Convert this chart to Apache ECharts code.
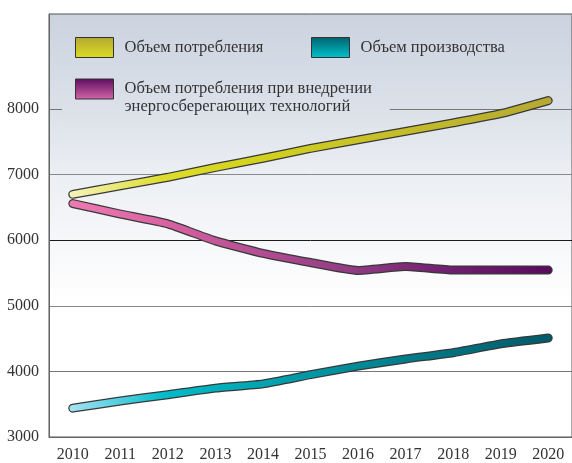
<!DOCTYPE html>
<html>
<head>
<meta charset="utf-8">
<script src="https://cdn.jsdelivr.net/npm/echarts@6/dist/echarts.min.js"></script>
<style>
  html, body { margin: 0; padding: 0; background: #fff; }
  #chart { width: 572px; height: 463px; }
</style>
</head>
<body>
<div id="chart"></div>
<script>
// данные
var years = ['2010', '2011', '2012', '2013', '2014', '2015', '2016', '2017', '2018', '2019', '2020'];
var consumption = [6700, 6830, 6960, 7110, 7250, 7400, 7530, 7660, 7790, 7930, 8130];
var savingConsumption = [6560, 6400, 6250, 5990, 5800, 5660, 5540, 5600, 5545, 5545, 5545];
var production = [3440, 3550, 3645, 3745, 3810, 3950, 4080, 4190, 4285, 4420, 4510];

var nameCons = 'Объем потребления';
var nameProd = 'Объем производства';
var nameSave = 'Объем потребления при внедрении\nэнергосберегающих технологий';

var FONT = '"Liberation Serif", "DejaVu Serif", serif';

function grad(x2, y2, stops) {
    return new echarts.graphic.LinearGradient(0, 0, x2, y2, stops.map(function (c, i) {
        return { offset: i / (stops.length - 1), color: c };
    }));
}

var yellowLine = grad(1, 0, ['#f6f3bc', '#dcdc2a', '#d2d21c', '#c8c226', '#bfb62c', '#b6a832']);
var purpleLine = grad(1, 0, ['#ee7ab2', '#d862a2', '#b24c92', '#8e3a82', '#6e1e6e', '#5a0a5c']);
var tealLine = grad(1, 0, ['#a8e2f4', '#00bcc8', '#00a4b0', '#008a98', '#00707e', '#005a6a']);

function legendItem(name, left, top, fill, extra) {
    var o = {
        left: left, top: top, padding: 0, z: 5,
        icon: 'rect', itemWidth: 38, itemHeight: 20,
        selectedMode: false,
        textStyle: { fontFamily: FONT, fontSize: 16.5, color: '#333', padding: [0, 0, 0, 6] },
        data: [{ name: name, itemStyle: { color: fill, borderColor: '#333', borderWidth: 1 } }]
    };
    return Object.assign(o, extra || {});
}

function pair(name, data, color) {
    return [{
        name: name, type: 'line', data: data, smooth: 0.15, symbol: 'none', silent: true,
        lineStyle: { color: '#383838', width: 9, cap: 'round', join: 'round' }
    }, {
        name: name, type: 'line', data: data, smooth: 0.15, symbol: 'none', silent: true,
        lineStyle: { color: color, width: 6.5, cap: 'round', join: 'round' }
    }];
}

var myChart = echarts.init(document.getElementById('chart'));
myChart.setOption({
    animation: false,
    legend: [
        legendItem(nameCons, 75, 37, grad(0, 1, ['#b4a834', '#dcdc20'])),
        legendItem(nameProd, 311, 37, grad(0, 1, ['#00606e', '#00c4cc'])),
        legendItem(nameSave, 62, 55, grad(0, 1, ['#5c0c5e', '#d466a8']), {
            z: 4,
            padding: [5, 18, 4, 13],
            backgroundColor: grad(0, 1, ['#d2d9e4', '#dee3ea']),
            // пустая первая строка, чтобы первая строка подписи шла по центру значка
            formatter: function (name) { return '\n' + name; },
            textStyle: { fontFamily: FONT, fontSize: 16.5, color: '#333', lineHeight: 18, padding: [4, 0, 0, 6] }
        })
    ],
    grid: {
        left: 49, right: -1, top: 14, bottom: 26,
        show: true, borderColor: '#555', borderWidth: 1,
        backgroundColor: new echarts.graphic.LinearGradient(0, 0, 0, 1, [
            { offset: 0, color: '#cbd3df' },
            { offset: 0.227, color: '#dce1e9' },
            { offset: 0.383, color: '#eceff3' },
            { offset: 0.537, color: '#f6f7f9' },
            { offset: 0.68, color: '#ffffff' },
            { offset: 1, color: '#ffffff' }
        ])
    },
    xAxis: {
        type: 'category', data: years, boundaryGap: true,
        axisLine: { lineStyle: { color: '#666', width: 1 } },
        axisTick: { alignWithLabel: true, length: 6, lineStyle: { color: '#666' } },
        axisLabel: { fontFamily: FONT, fontSize: 16, color: '#333', margin: 10 }
    },
    yAxis: {
        type: 'value', min: 3000, max: 9450, interval: 1000,
        axisLine: { show: true, lineStyle: { color: '#666', width: 1 } },
        axisTick: { show: false },
        axisLabel: {
            fontFamily: FONT, fontSize: 16, color: '#333', margin: 10,
            formatter: function (v) { return v <= 8000 ? String(v) : ''; }
        },
        splitLine: {
            show: true,
            lineStyle: {
                width: 1,
                color: ['#666', '#777', '#888', '#1a1a1a', '#888', '#777', 'rgba(0,0,0,0)', 'rgba(0,0,0,0)']
            }
        }
    },
    series: [].concat(
        pair(nameProd, production, tealLine),
        pair(nameSave, savingConsumption, purpleLine),
        pair(nameCons, consumption, yellowLine)
    )
});
</script>
</body>
</html>
